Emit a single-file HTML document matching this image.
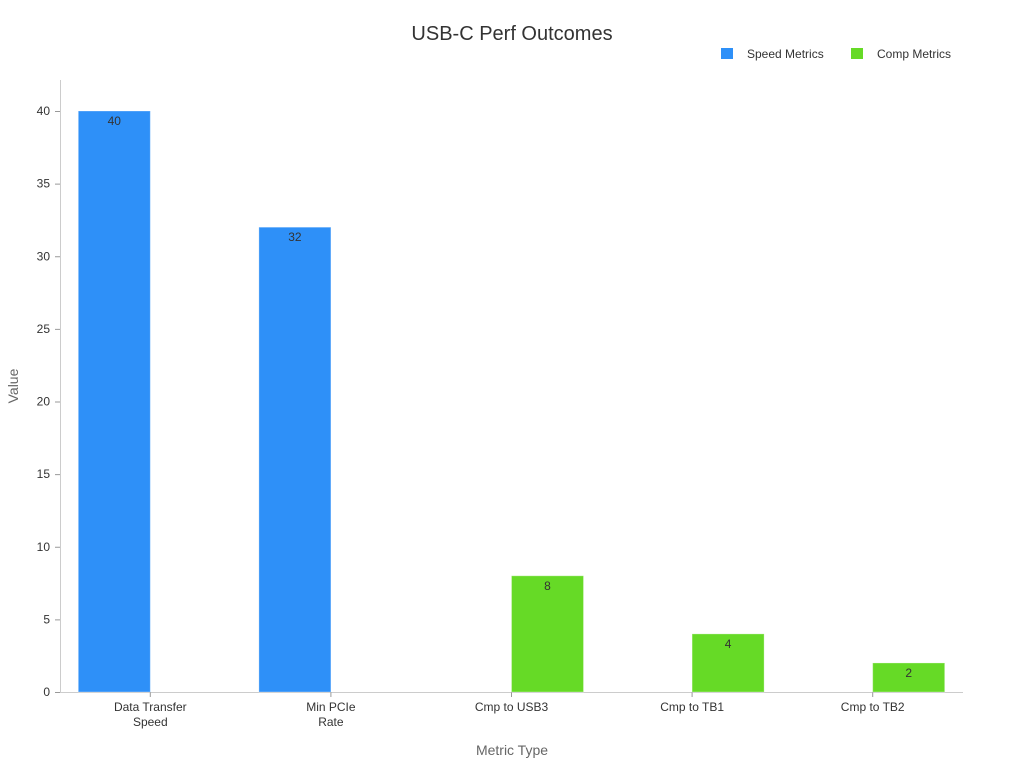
<!DOCTYPE html>
<html><head><meta charset="utf-8"><style>
html,body{margin:0;padding:0;background:#fff;width:1024px;height:768px;overflow:hidden}
text{font-family:"Liberation Sans","DejaVu Sans",sans-serif}
</style></head><body>
<svg id="chart" width="1024" height="768" xmlns="http://www.w3.org/2000/svg">
<text x="512" y="40" text-anchor="middle" font-size="20" fill="#333">USB-C Perf Outcomes</text>
<g>
<rect x="721" y="48" width="12" height="11" fill="#2e90f8"/>
<text x="747" y="58" font-size="12" fill="#333">Speed Metrics</text>
<rect x="851" y="48" width="12" height="11" fill="#66da26"/>
<text x="877" y="58" font-size="12" fill="#333">Comp Metrics</text>
</g>
<line x1="60.5" y1="80" x2="60.5" y2="692" stroke="#ccc"/>
<line x1="60" y1="692.5" x2="963" y2="692.5" stroke="#ccc"/>
<text transform="translate(18,386) rotate(-90)" text-anchor="middle" font-size="14" fill="#666">Value</text>
<text x="512" y="755" text-anchor="middle" font-size="14" fill="#666">Metric Type</text>
<g id="plot"></g>
</svg>
<script>
const categories = [["Data Transfer","Speed"],["Min PCIe","Rate"],["Cmp to USB3"],["Cmp to TB1"],["Cmp to TB2"]];
const speedValues = [40, 32, null, null, null];
const compValues = [null, null, 8, 4, 2];
const yTicks = [0, 5, 10, 15, 20, 25, 30, 35, 40];

const NS = "http://www.w3.org/2000/svg";
const g = document.getElementById("plot");
const x0 = 60, plotW = 903, y0 = 692, pxPerUnit = 581 / 40;
const band = plotW / categories.length;
const barW = 72;
function yScale(v){ return y0 - v * pxPerUnit; }
function xCenter(i){ return x0 + band * (i + 0.5); }
function mk(tag, attrs){ const e = document.createElementNS(NS, tag); for (const k in attrs) e.setAttribute(k, attrs[k]); g.appendChild(e); return e; }

yTicks.forEach(t => {
  const y = yScale(t);
  const tk = mk("line", {x1: 55, x2: 60, y1: y + 0.5, y2: y + 0.5, stroke: "#999"});
  
  
  const lb = mk("text", {x: 50, y: y + 4, "text-anchor": "end", "font-size": 12, fill: "#333"});
  
  
  lb.textContent = t;
});

categories.forEach((c, i) => {
  const cx = xCenter(i);
  const tk = mk("line", {x1: cx, x2: cx, y1: 692, y2: 697, stroke: "#999"});
  
  
  const lb = mk("text", {x: cx, y: 711, "text-anchor": "middle", "font-size": 12, fill: "#333"});
  
  
  c.forEach((line, j) => {
    const ts = document.createElementNS(NS, "tspan");
    ts.setAttribute("x", cx);
    ts.setAttribute("dy", j === 0 ? 0 : 15);
    ts.textContent = line;
    lb.appendChild(ts);
  });
});

function drawSeries(vals, color, offset, name){
  vals.forEach((v, i) => {
    if (v === null) return;
    const xl = xCenter(i) + offset;
    const yt = yScale(v);
    const r = mk("rect", {x: xl, y: yt, width: barW, height: y0 - yt, fill: color, stroke: "#fff", "stroke-opacity": 0.3});
    
    
    const t = mk("text", {x: xl + barW / 2, y: yt + 14, "text-anchor": "middle", "font-size": 12, fill: "#333"});
    
    
    t.textContent = v;
  });
}
drawSeries(speedValues, "#2e90f8", -barW, "speed-metrics");
drawSeries(compValues, "#66da26", 0, "comp-metrics");
</script>
</body></html>
